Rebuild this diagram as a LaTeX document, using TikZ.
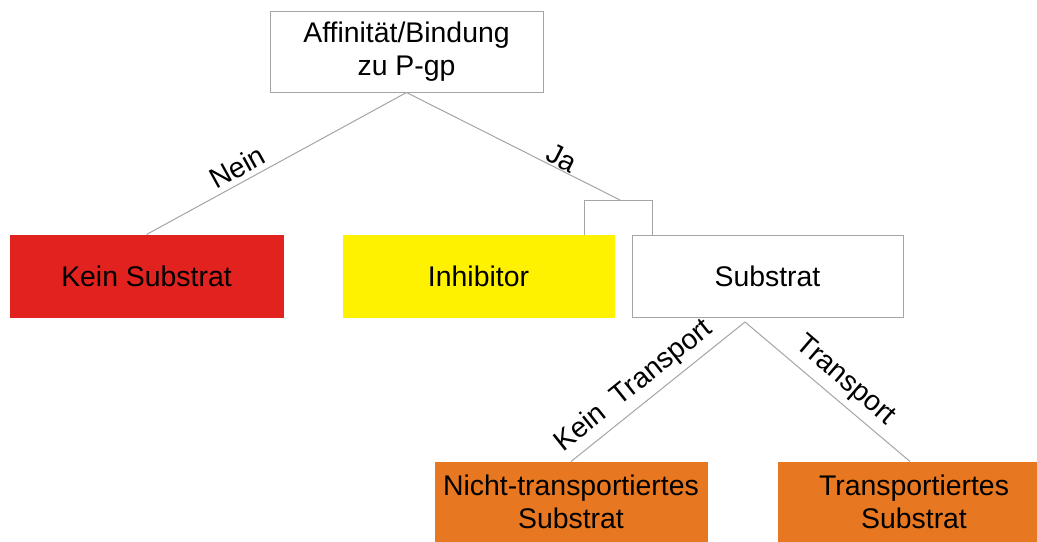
\documentclass[tikz,border=0pt]{standalone}
\usepackage{fontspec}
\setmainfont{Liberation Sans}
\definecolor{boxred}{RGB}{226,34,30}
\definecolor{boxyellow}{RGB}{255,242,0}
\definecolor{boxorange}{RGB}{231,119,32}
\definecolor{linegray}{RGB}{165,165,165}
\begin{document}
\begin{tikzpicture}[x=0.5pt,y=-0.5pt,
  every node/.style={font=\fontsize{14.2pt}{16pt}\selectfont},
  box/.style={draw=linegray,line width=0.5pt,rectangle,minimum width=136.5pt,minimum height=41pt,inner sep=0pt,align=center},
  filled/.style={box,draw=#1,fill=#1},
  conn/.style={draw=linegray,line width=0.5pt},
  lbl/.style={inner sep=0pt}]
\useasboundingbox (0,0) rectangle (1037,541);
\fill[white] (0,0) rectangle (1037,541);
% nodes
\node[box,minimum height=40.5pt] (top) at (406.5,51.5) {Affinität/Bindung\\[0.6pt]zu P-gp};
\node[filled=boxred] (kein) at (146.5,276) {Kein Substrat};
\node[filled=boxyellow,minimum width=135.5pt] (inh) at (478.5,276) {Inhibitor};
\node[box,minimum width=135.5pt] (sub) at (767.5,276) {Substrat};
\node[filled=boxorange,minimum width=136pt,minimum height=40pt] (nicht) at (571,502) {Nicht-transportiertes\\[0.3pt]Substrat};
\node[filled=boxorange,minimum width=136pt,minimum height=40pt] (trans) at (914,502) {Transportiertes\\[0.3pt]Substrat};
% connector points
\coordinate (brL) at (584,200);
\coordinate (brM) at (620,200);
\coordinate (brR) at (652,200);
\coordinate (subap) at (745,322);
% connectors
\draw[conn] (top.south) -- (kein.north);
\draw[conn] (top.south) -- (brM);
\draw[conn] (inh.north -| brL) -- (brL) -- (brR) -- (sub.north -| brR);
\draw[conn] (subap) -- (nicht.north);
\draw[conn] (subap) -- (trans.north -| 910,0);
% labels
\node[lbl,rotate=28.8] (lnein) at (237,167) {Nein};
\node[lbl,rotate=-26.9] (lja) at (562,158) {Ja};
\node[lbl,rotate=38.7] (lkt) at (634,386) {Kein\ \ Transport};
\node[lbl,rotate=-40.7] (lt) at (845,381) {Transport};
\end{tikzpicture}
\end{document}
